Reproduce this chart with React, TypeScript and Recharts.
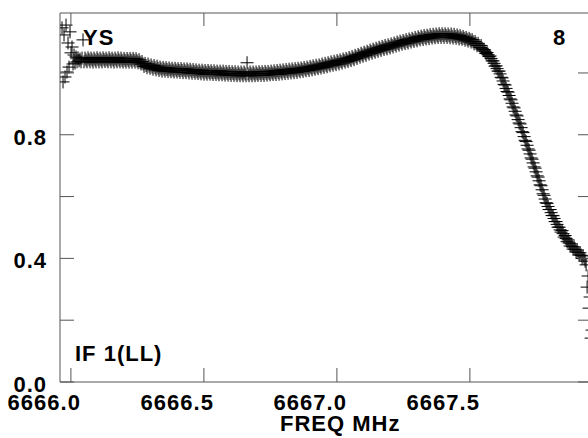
import React from 'react';
import { ScatterChart, Scatter, XAxis, YAxis } from 'recharts';

// Channel grid (MHz)
const FREQ_START = 6665.9666;
const FREQ_STEP = 0.00376;

// Amplitude per channel
const amplitude: number[] = [
  1.146, 0.971, 1.123, 0.987, 1.155, 1.003, 1.097, 1.019, 1.133, 1.065,
  1.084, 1.029, 1.058, 1.032, 1.052, 1.036, 1.049, 1.039, 1.045, 1.036,
  1.048, 1.107, 1.036, 1.048, 1.042, 1.036, 1.049, 1.043, 1.036, 1.048,
  1.042, 1.035, 1.048, 1.042, 1.036, 1.049, 1.043, 1.036, 1.048, 1.042,
  1.036, 1.049, 1.043, 1.037, 1.048, 1.042, 1.036, 1.049, 1.043, 1.036,
  1.048, 1.042, 1.035, 1.048, 1.042, 1.036, 1.049, 1.042, 1.036, 1.048,
  1.041, 1.035, 1.047, 1.041, 1.035, 1.047, 1.041, 1.035, 1.047, 1.041,
  1.035, 1.047, 1.041, 1.035, 1.046, 1.039, 1.033, 1.043, 1.035, 1.029,
  1.037, 1.029, 1.021, 1.031, 1.024, 1.017, 1.029, 1.022, 1.015, 1.026,
  1.019, 1.012, 1.024, 1.017, 1.010, 1.022, 1.015, 1.008, 1.019, 1.013,
  1.006, 1.018, 1.012, 1.006, 1.017, 1.011, 1.005, 1.016, 1.010, 1.004,
  1.015, 1.009, 1.003, 1.015, 1.009, 1.003, 1.014, 1.008, 1.002, 1.014,
  1.008, 1.001, 1.013, 1.007, 1.001, 1.013, 1.007, 1.000, 1.012, 1.006,
  0.999, 1.011, 1.005, 0.999, 1.010, 1.004, 0.998, 1.009, 1.003, 0.997,
  1.009, 1.003, 0.996, 1.008, 1.002, 0.996, 1.008, 1.002, 0.996, 1.007,
  1.001, 0.995, 1.007, 1.001, 0.995, 1.006, 1.000, 0.994, 1.006, 1.000,
  0.994, 1.006, 0.999, 0.993, 1.005, 0.999, 0.993, 1.005, 0.998, 0.992,
  1.004, 0.998, 0.992, 1.004, 0.997, 0.991, 1.003, 0.997, 0.991, 1.003,
  0.997, 0.991, 1.003, 0.997, 0.991, 1.033, 0.997, 0.991, 1.003, 0.997,
  0.991, 1.003, 0.997, 0.991, 1.003, 0.997, 0.992, 1.004, 0.998, 0.992,
  1.004, 0.998, 0.992, 1.005, 0.999, 0.993, 1.005, 0.999, 0.994, 1.006,
  1.000, 0.995, 1.007, 1.001, 0.995, 1.008, 1.002, 0.996, 1.009, 1.003,
  0.997, 1.010, 1.004, 0.998, 1.011, 1.005, 0.999, 1.012, 1.006, 1.000,
  1.013, 1.007, 1.001, 1.014, 1.008, 1.002, 1.015, 1.009, 1.004, 1.016,
  1.011, 1.005, 1.018, 1.012, 1.007, 1.019, 1.014, 1.008, 1.021, 1.016,
  1.010, 1.023, 1.017, 1.012, 1.025, 1.019, 1.014, 1.026, 1.021, 1.016,
  1.029, 1.023, 1.018, 1.031, 1.025, 1.020, 1.033, 1.028, 1.023, 1.036,
  1.030, 1.025, 1.038, 1.032, 1.027, 1.040, 1.035, 1.029, 1.042, 1.037,
  1.032, 1.045, 1.040, 1.035, 1.047, 1.042, 1.037, 1.050, 1.045, 1.040,
  1.053, 1.048, 1.043, 1.057, 1.052, 1.047, 1.060, 1.056, 1.051, 1.064,
  1.059, 1.054, 1.067, 1.062, 1.057, 1.070, 1.066, 1.061, 1.074, 1.069,
  1.064, 1.077, 1.072, 1.067, 1.080, 1.075, 1.070, 1.083, 1.078, 1.073,
  1.086, 1.081, 1.076, 1.089, 1.083, 1.078, 1.091, 1.086, 1.081, 1.094,
  1.089, 1.084, 1.097, 1.092, 1.087, 1.100, 1.095, 1.090, 1.103, 1.098,
  1.093, 1.105, 1.100, 1.095, 1.108, 1.102, 1.097, 1.110, 1.105, 1.100,
  1.112, 1.107, 1.102, 1.115, 1.109, 1.104, 1.117, 1.112, 1.107, 1.119,
  1.114, 1.108, 1.121, 1.115, 1.110, 1.122, 1.117, 1.111, 1.124, 1.118,
  1.113, 1.125, 1.119, 1.114, 1.126, 1.120, 1.115, 1.127, 1.121, 1.115,
  1.127, 1.121, 1.115, 1.127, 1.121, 1.115, 1.126, 1.120, 1.114, 1.126,
  1.119, 1.113, 1.125, 1.118, 1.112, 1.123, 1.117, 1.110, 1.121, 1.114,
  1.109, 1.118, 1.112, 1.106, 1.115, 1.109, 1.103, 1.112, 1.107, 1.100,
  1.108, 1.101, 1.094, 1.102, 1.095, 1.088, 1.096, 1.089, 1.082, 1.089,
  1.080, 1.074, 1.076, 1.070, 1.063, 1.066, 1.059, 1.053, 1.055, 1.047,
  1.039, 1.039, 1.031, 1.022, 1.023, 1.014, 1.006, 1.006, 0.997, 0.986,
  0.984, 0.974, 0.963, 0.961, 0.950, 0.940, 0.938, 0.927, 0.916, 0.913,
  0.902, 0.890, 0.887, 0.876, 0.864, 0.861, 0.849, 0.838, 0.835, 0.823,
  0.810, 0.807, 0.794, 0.782, 0.778, 0.766, 0.754, 0.750, 0.738, 0.725,
  0.721, 0.709, 0.696, 0.692, 0.680, 0.667, 0.663, 0.651, 0.638, 0.635,
  0.622, 0.609, 0.604, 0.592, 0.580, 0.578, 0.568, 0.558, 0.558, 0.548,
  0.539, 0.538, 0.529, 0.519, 0.519, 0.510, 0.501, 0.501, 0.492, 0.485,
  0.490, 0.480, 0.469, 0.474, 0.464, 0.454, 0.460, 0.450, 0.440, 0.447,
  0.439, 0.430, 0.437, 0.429, 0.421, 0.427, 0.419, 0.411, 0.418, 0.410,
  0.400, 0.408, 0.399, 0.391, 0.379, 0.307, 0.343, 0.239, 0.275, 0.142,
  0.168,
];

const xTicks = [6666.0, 6666.5, 6667.0, 6667.5];
const xTickLabels = ['6666.0', '6666.5', '6667.0', '6667.5'];
const yTicks = [0, 0.2, 0.4, 0.6, 0.8, 1.0];
const yTickLabels = ['0.0', '', '0.4', '', '0.8', ''];

const data = amplitude.map((a, i) => ({ f: FREQ_START + i * FREQ_STEP, a }));

const FONT = "'Liberation Sans', Arial, sans-serif";
const AXIS = '#555';
const TXT = { fontFamily: FONT, fontWeight: 700, fontSize: 22, letterSpacing: 1, fill: '#000' } as const;

const Plus = (props: any) => {
  const { cx, cy } = props;
  if (cx == null || cy == null) return null;
  return (
    <path
      d={`M${cx - 6.5},${cy}H${cx + 6.5}M${cx},${cy - 6.5}V${cy + 6.5}`}
      stroke="#000"
      strokeWidth={1}
      fill="none"
    />
  );
};

const BottomTick = (props: any) => {
  const { x, y, index } = props;
  return (
    <g>
      <line x1={x} y1={y} x2={x} y2={y - 14} stroke={AXIS} strokeWidth={1} />
      <text x={x + 10} y={y + 28} textAnchor="end" style={TXT}>{xTickLabels[index]}</text>
    </g>
  );
};

const TopTick = (props: any) => {
  const { x, y } = props;
  return <line x1={x} y1={y} x2={x} y2={y + 13} stroke={AXIS} strokeWidth={1} />;
};

const LeftTick = (props: any) => {
  const { x, y, index } = props;
  return (
    <g>
      <line x1={x} y1={y} x2={x + 14} y2={y} stroke={AXIS} strokeWidth={1} />
      <text x={x - 13} y={y + 10} textAnchor="end" style={TXT}>{yTickLabels[index]}</text>
    </g>
  );
};

const RightTick = (props: any) => {
  const { x, y } = props;
  return <line x1={x} y1={y} x2={x - 14} y2={y} stroke={AXIS} strokeWidth={1} />;
};

export default function App() {
  return (
    <div style={{ position: 'absolute', left: 0, top: 0, width: 588, height: 438, overflow: 'hidden', background: '#fff' }}>
      <ScatterChart width={600} height={438} margin={{ top: 0, right: 0, bottom: 0, left: 0 }}>
        <XAxis
          xAxisId="bottom"
          dataKey="f"
          type="number"
          domain={[6665.959, 6667.959]}
          allowDataOverflow
          ticks={xTicks}
          interval={0}
          height={56}
          tickSize={0}
          tickMargin={0}
          tickLine={false}
          axisLine={{ stroke: AXIS, strokeWidth: 1 }}
          tick={<BottomTick />}
        />
        <XAxis
          xAxisId="top"
          orientation="top"
          dataKey="f"
          type="number"
          domain={[6665.959, 6667.959]}
          allowDataOverflow
          ticks={xTicks}
          interval={0}
          height={13}
          tickSize={0}
          tickMargin={0}
          tickLine={false}
          axisLine={{ stroke: AXIS, strokeWidth: 1 }}
          tick={<TopTick />}
        />
        <YAxis
          yAxisId="left"
          dataKey="a"
          type="number"
          domain={[0, 1.194]}
          allowDataOverflow
          ticks={yTicks}
          interval={0}
          width={60}
          tickSize={0}
          tickMargin={0}
          tickLine={false}
          axisLine={{ stroke: AXIS, strokeWidth: 1 }}
          tick={<LeftTick />}
        />
        <YAxis
          yAxisId="right"
          orientation="right"
          dataKey="a"
          type="number"
          domain={[0, 1.194]}
          allowDataOverflow
          ticks={yTicks}
          interval={0}
          width={8}
          tickSize={0}
          tickMargin={0}
          tickLine={false}
          axisLine={{ stroke: AXIS, strokeWidth: 1 }}
          tick={<RightTick />}
        />
        <Scatter
          xAxisId="bottom"
          yAxisId="left"
          data={data}
          shape={<Plus />}
          isAnimationActive={false}
        />
        <Scatter
          xAxisId="top"
          yAxisId="right"
          data={data}
          shape={() => null}
          isAnimationActive={false}
        />
        <text x={83} y={45} style={TXT}>YS</text>
        <text x={553} y={45} style={TXT}>8</text>
        <text x={75} y={361} style={TXT}>IF 1(LL)</text>
        <text x={280} y={431} style={TXT}>FREQ MHz</text>
      </ScatterChart>
    </div>
  );
}
